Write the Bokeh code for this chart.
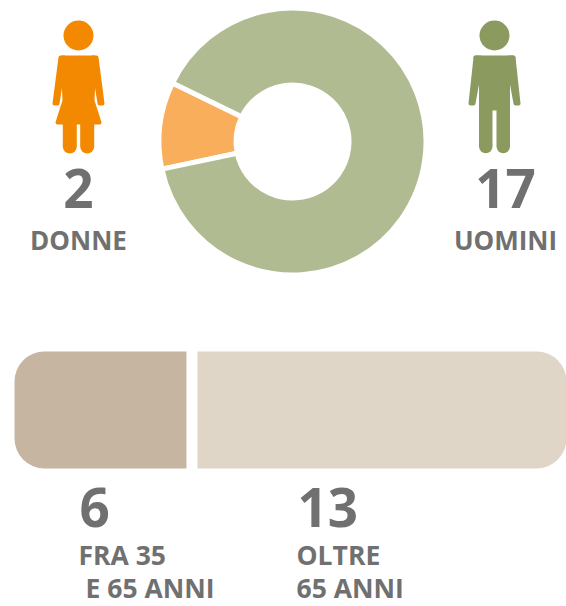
import math
from bokeh.embed import file_html
from bokeh.models import Range1d
from bokeh.plotting import figure
from bokeh.resources import INLINE
from bokeh.core.properties import value

gender_labels = ["DONNE", "UOMINI"]
gender_counts = [2, 17]
age_counts = [6, 13]
age_labels = [["FRA 35", "E 65 ANNI"], ["OLTRE", "65 ANNI"]]

FONT = "Open Sans"
TXT = "#707070"
W, H = 566, 606
def Y(y):
    return H - y

p = figure(width=W, height=H, output_backend="svg", toolbar_location=None,
           x_range=Range1d(0, W), y_range=Range1d(0, H),
           x_axis_type=None, y_axis_type=None, min_border=0, outline_line_color=None,
           background_fill_color="white", border_fill_color="white")
p.grid.visible = False

# donut
total = sum(gender_counts)
mid = math.radians(173)
span = 2 * math.pi * gender_counts[0] / total
a0, a1 = mid - span / 2, mid + span / 2
p.annular_wedge(x=[292, 292], y=[Y(141), Y(141)], inner_radius=56.5, outer_radius=133.5,
                start_angle=[a0, a1], end_angle=[a1, a0 + 2 * math.pi],
                fill_color=["#f9ae5c", "#b0bb92"], line_color="white", line_width=5)

# figures
def shape(cx, pts, color):
    p.patch([cx + a for a, _ in pts], [Y(b) for _, b in pts], fill_color=color,
            line_color=color, line_width=4, line_join="round")

def person(cx, color, female):
    p.scatter(x=[cx], y=[Y(35)], size=30, marker="circle", fill_color=color, line_color=None)
    if female:
        torso = [(-16, 57), (16, 57), (14, 100), (21, 122), (-21, 122), (-14, 100)]
        arm = [(-18, 57), (-24, 103), (-21, 103), (-18, 84), (-14, 70), (-14, 57)]
        leg_top, w, dx = 120, 14, 8.7
    else:
        torso = [(-19, 57), (19, 57), (13.5, 84), (13.5, 108), (-13.5, 108), (-13.5, 84)]
        arm = [(-19, 57), (-24, 103), (-21, 103), (-17.5, 84), (-14, 70), (-14, 57)]
        leg_top, w, dx = 100, 13.5, 8.75
    shape(cx, torso, color)
    shape(cx, arm, color)
    shape(cx, [(-a, b) for a, b in arm], color)
    for s in (-1, 1):
        p.line([cx + s * dx] * 2, [Y(leg_top), Y(146)], line_color=color, line_width=w, line_cap="round")

person(78, "#f28900", True)
person(494, "#8b9a5f", False)

def label(x, y, t, size, align="center"):
    p.text(x=[x], y=[Y(y)], text=[t], text_font=value(FONT), text_font_size=f"{size}px",
           text_font_style="bold", text_color=TXT, text_align=align, text_baseline="alphabetic",
           y_offset=-0.38 * size)

label(78, 208, str(gender_counts[0]), 53)
label(505, 208, str(gender_counts[1]), 53)
label(78, 249, gender_labels[0], 26)
label(505, 249, gender_labels[1], 26)

# stacked bar
X0, X1 = 14, 568
unit = (X1 - X0) / sum(age_counts)
split = X0 + age_counts[0] * unit + 2.5
p.hbar(y=[Y(409.5)], left=[X0], right=[split - 5.5], height=117, fill_color="#c6b5a0",
       line_color=None, border_radius=(30, 0, 0, 30))
p.hbar(y=[Y(409.5)], left=[split + 5.5], right=[X1], height=117, fill_color="#dfd6c8",
       line_color=None, border_radius=(0, 30, 30, 0))

label(79, 527, str(age_counts[0]), 53, "left")
label(297, 527, str(age_counts[1]), 53, "left")
label(78, 565, age_labels[0][0], 26.5, "left")
label(85, 597.5, age_labels[0][1], 26.5, "left")
label(296, 565, age_labels[1][0], 26.5, "left")
label(296, 597.5, age_labels[1][1], 26.5, "left")

open("out.html", "w").write(file_html(p, INLINE))
